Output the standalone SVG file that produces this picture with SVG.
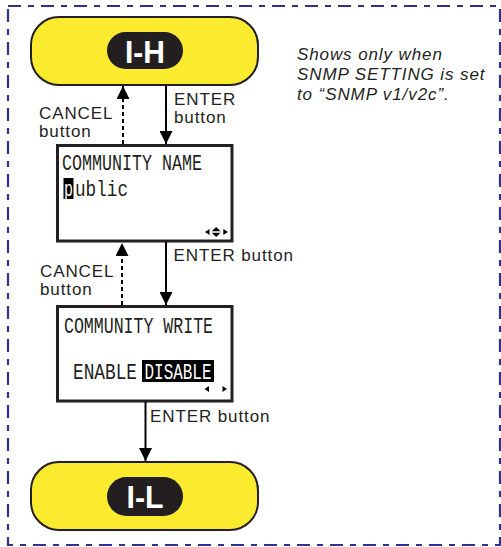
<svg xmlns="http://www.w3.org/2000/svg" width="501" height="547" viewBox="0 0 501 547">
<style>
.lbl{font-family:"Liberation Sans",Arial,sans-serif;font-size:17px;letter-spacing:0.9px;fill:#231f20}
.note{font-family:"Liberation Sans",Arial,sans-serif;font-size:17px;letter-spacing:0.9px;font-style:italic;fill:#231f20}
.term{fill:#fbeb2e;stroke:#231f20;stroke-width:2}
.pill{fill:#231f20}
.tid{font-family:"Liberation Sans",Arial,sans-serif;font-weight:bold;font-size:32px;fill:#ffffff;text-anchor:middle}
.lcd{fill:#ffffff;stroke:#231f20;stroke-width:3}
.mono{font-family:"Liberation Mono","DejaVu Sans Mono",monospace;font-size:16.4px;fill:#231f20}
.inv{fill:#ffffff}
.solid{stroke:#000;stroke-width:2;fill:none}
.dash{stroke:#000;stroke-width:2;fill:none;stroke-dasharray:4 3}
</style>
<defs>
<marker id="ah" viewBox="0 0 13 13" refX="13" refY="6.5" markerWidth="13" markerHeight="13" markerUnits="userSpaceOnUse" orient="auto">
<path d="M0,0 L13,6.5 L0,13 z" fill="#000"/>
</marker>
</defs>
<rect x="8" y="6" width="492" height="539" fill="none" stroke="#2e3192" stroke-width="2.2" stroke-dasharray="13 7 6 7"/>
<g id="note">
<text class="note" x="297" y="59.5">Shows only when</text>
<text class="note" x="297" y="79.5">SNMP SETTING is set</text>
<text class="note" x="297" y="99.5">to “SNMP v1/v2c”.</text>
</g>
<g id="node-IH">
<rect class="term" x="31" y="17" width="227" height="68" rx="28"/>
<rect class="pill" x="107" y="32" width="76" height="37" rx="18.5"/>
<text class="tid" x="145" y="62.5" textLength="40" lengthAdjust="spacingAndGlyphs">I-H</text>
</g>
<g id="node-community-name">
<rect class="lcd" x="57.5" y="145.5" width="174.5" height="95.5"/>
<text class="mono" transform="translate(62,170) scale(1,1.35)" textLength="140" lengthAdjust="spacingAndGlyphs">COMMUNITY NAME</text>
<rect x="63.5" y="178" width="10" height="21" fill="#000"/>
<text class="mono inv" transform="translate(64,195.5) scale(1,1.35)" textLength="9" lengthAdjust="spacingAndGlyphs">p</text>
<text class="mono" transform="translate(75,195.5) scale(1,1.35)" textLength="53" lengthAdjust="spacingAndGlyphs">ublic</text>
<polygon points="209.5,229 209.5,235 205,232" fill="#000"/>
<polygon points="216.2,227 220.7,231.3 211.7,231.3" fill="#000"/>
<polygon points="211.7,232.7 220.7,232.7 216.2,237" fill="#000"/>
<polygon points="223.3,229 223.3,235 228,232" fill="#000"/>
</g>
<g id="node-community-write">
<rect class="lcd" x="57.5" y="306.5" width="174.5" height="94.5"/>
<text class="mono" transform="translate(64,332.5) scale(1,1.35)" textLength="149" lengthAdjust="spacingAndGlyphs">COMMUNITY WRITE</text>
<text class="mono" transform="translate(73,378.5) scale(1,1.35)" textLength="64" lengthAdjust="spacingAndGlyphs">ENABLE</text>
<rect x="142" y="360" width="72" height="22" fill="#000"/>
<text class="mono inv" transform="translate(144.5,378.5) scale(1,1.35)" textLength="67" lengthAdjust="spacingAndGlyphs">DISABLE</text>
<polygon points="209,386 209,392 204.5,389" fill="#000"/>
<polygon points="222.5,386 222.5,392 227,389" fill="#000"/>
</g>
<g id="node-IL">
<rect class="term" x="31" y="462" width="227" height="68" rx="28"/>
<rect class="pill" x="107" y="477" width="76" height="39" rx="19.5"/>
<text class="tid" x="145" y="507.5" textLength="37" lengthAdjust="spacingAndGlyphs">I-L</text>
</g>
<g id="connectors">
<line class="solid" x1="166" y1="86" x2="166" y2="144" marker-end="url(#ah)"/>
<line class="dash" x1="123" y1="144" x2="123" y2="86" marker-end="url(#ah)"/>
<line class="solid" x1="166" y1="242" x2="166" y2="305" marker-end="url(#ah)"/>
<line class="dash" x1="122" y1="305" x2="122" y2="243" marker-end="url(#ah)"/>
<line class="solid" x1="145.5" y1="402" x2="145.5" y2="461" marker-end="url(#ah)"/>
<text class="lbl" x="174" y="105">ENTER</text>
<text class="lbl" x="174" y="123">button</text>
<text class="lbl" x="39" y="119">CANCEL</text>
<text class="lbl" x="39" y="137">button</text>
<text class="lbl" x="173.5" y="261">ENTER button</text>
<text class="lbl" x="40" y="277">CANCEL</text>
<text class="lbl" x="40" y="295">button</text>
<text class="lbl" x="150" y="422">ENTER button</text>
</g>
</svg>
